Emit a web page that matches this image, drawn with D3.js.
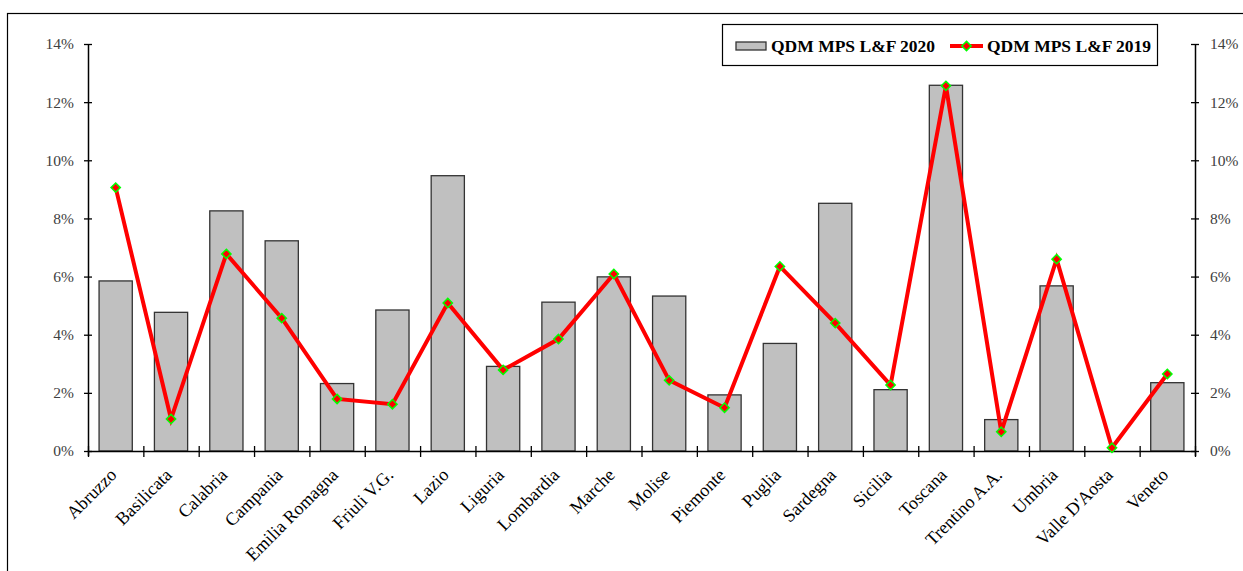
<!DOCTYPE html>
<html>
<head>
<meta charset="utf-8">
<script src="https://cdn.jsdelivr.net/npm/d3@7"></script>
<style>
  html, body { margin: 0; padding: 0; background: #fff; }
  svg { display: block; }
  svg text { font-family: "Liberation Serif", "DejaVu Serif", serif !important; }
</style>
</head>
<body>
<svg id="chart" width="1243" height="571"></svg>
<script>
// Regional shares (fraction of national total)
const regions = ["Abruzzo", "Basilicata", "Calabria", "Campania", "Emilia Romagna",
  "Friuli V.G.", "Lazio", "Liguria", "Lombardia", "Marche", "Molise", "Piemonte",
  "Puglia", "Sardegna", "Sicilia", "Toscana", "Trentino A.A.", "Umbria",
  "Valle D'Aosta", "Veneto"];

const share2020 = [0.0585, 0.0477, 0.0826, 0.0723, 0.0232, 0.0485, 0.0947, 0.0291,
  0.0512, 0.0599, 0.0533, 0.0193, 0.0370, 0.0852, 0.0211, 0.1258, 0.0108, 0.0568,
  0.0000, 0.0235];

const share2019 = [0.0906, 0.0110, 0.0678, 0.0457, 0.0179, 0.0161, 0.0509, 0.0279,
  0.0385, 0.0609, 0.0243, 0.0149, 0.0635, 0.0440, 0.0227, 0.1256, 0.0066, 0.0660,
  0.0011, 0.0265];

const yTicks = [0, 0.02, 0.04, 0.06, 0.08, 0.10, 0.12, 0.14];

const seriesNames = ["QDM MPS L&F 2020", "QDM MPS L&F 2019"];

const serif = "Liberation Serif, DejaVu Serif, serif";
const svg = d3.select("#chart");

// frame around the chart
svg.append("rect")
  .attr("x", 7.5).attr("y", 13.5)
  .attr("width", 1300).attr("height", 700)
  .attr("fill", "none").attr("stroke", "#000").attr("stroke-width", 1.2);

const plot = { left: 88, right: 1195, top: 44, bottom: 451 };

const x = d3.scaleBand().domain(regions).range([plot.left, plot.right])
  .paddingInner(0.4).paddingOuter(0.2);
const xEdge = d3.scaleLinear().domain([0, regions.length]).range([plot.left, plot.right]);
const y = d3.scaleLinear().domain([0, 0.14]).range([plot.bottom, plot.top]);

const pct = d3.format(".0%");

// bars
svg.append("g").selectAll("rect").data(regions).join("rect")
  .attr("x", d => x(d))
  .attr("y", (d, i) => y(share2020[i]))
  .attr("width", x.bandwidth())
  .attr("height", (d, i) => plot.bottom - y(share2020[i]))
  .attr("fill", "#c0c0c0")
  .attr("stroke", "#333")
  .attr("stroke-width", 1.3)
  .style("display", (d, i) => share2020[i] > 0 ? null : "none");

// axes
function styleAxis(g) {
  g.attr("font-family", serif);
  g.select(".domain").attr("stroke", "#000").attr("stroke-width", 1.5);
  g.selectAll(".tick line").attr("stroke", "#000").attr("stroke-width", 1.3);
}

const yLeft = svg.append("g").attr("transform", `translate(${plot.left},0)`)
  .call(d3.axisLeft(y).tickValues(yTicks).tickFormat(pct).tickSize(4).tickSizeOuter(0).tickPadding(10));
yLeft.call(styleAxis);
yLeft.selectAll(".tick line").attr("x1", -4).attr("x2", 4);
yLeft.selectAll(".tick text").attr("font-size", 15.5).attr("fill", "#404040");

const yRight = svg.append("g").attr("transform", `translate(${plot.right},0)`)
  .call(d3.axisRight(y).tickValues(yTicks).tickFormat(pct).tickSize(4).tickSizeOuter(0).tickPadding(11));
yRight.call(styleAxis);
yRight.selectAll(".tick line").attr("x1", -4).attr("x2", 4);
yRight.selectAll(".tick text").attr("font-size", 15.5).attr("fill", "#404040");

const xAxis = svg.append("g").attr("transform", `translate(0,${plot.bottom})`)
  .call(d3.axisBottom(xEdge).tickValues(d3.range(regions.length + 1)).tickFormat("").tickSizeOuter(0).tickSize(5));
xAxis.call(styleAxis);
xAxis.selectAll(".tick line").attr("y1", -5).attr("y2", 6);

// category labels
svg.append("g").selectAll("text").data(regions).join("text")
  .attr("transform", d => `translate(${x(d) + x.bandwidth() / 2 + 2},${plot.bottom + 25}) rotate(-45)`)
  .attr("text-anchor", "end")
  .attr("font-family", serif)
  .attr("font-size", 18)
  .attr("fill", "#000")
  .text(d => d);

// 2019 line with diamond markers
const cx = d => x(d) + x.bandwidth() / 2;
const line = d3.line().x((d, i) => cx(regions[i])).y(d => y(d));
svg.append("path").datum(share2019)
  .attr("d", line)
  .attr("fill", "none")
  .attr("stroke", "#ff0000")
  .attr("stroke-width", 4)
  .attr("stroke-linejoin", "miter");

const diamond = d3.symbol().type(d3.symbolDiamond2).size(55);
svg.append("g").selectAll("path").data(share2019).join("path")
  .attr("transform", (d, i) => `translate(${cx(regions[i])},${y(d)})`)
  .attr("d", diamond)
  .attr("fill", "#ff0000")
  .attr("stroke", "#00ff00")
  .attr("stroke-width", 1.5);

// legend
const lg = svg.append("g").attr("font-family", serif);
lg.append("rect").attr("x", 722.5).attr("y", 24.5).attr("width", 435).attr("height", 41)
  .attr("fill", "#fff").attr("stroke", "#000").attr("stroke-width", 1.2);
lg.append("rect").attr("x", 736).attr("y", 42).attr("width", 30).attr("height", 8)
  .attr("fill", "#c0c0c0").attr("stroke", "#333").attr("stroke-width", 1.3);
lg.append("text").attr("x", 771).attr("y", 52).attr("font-size", 17.5).attr("font-weight", "bold")
  .text(seriesNames[0]);
lg.append("line").attr("x1", 950).attr("x2", 983).attr("y1", 46).attr("y2", 46)
  .attr("stroke", "#ff0000").attr("stroke-width", 4);
lg.append("path").attr("transform", "translate(966.5,46)").attr("d", diamond)
  .attr("fill", "#ff0000").attr("stroke", "#00ff00").attr("stroke-width", 1.5);
lg.append("text").attr("x", 987).attr("y", 52).attr("font-size", 17.5).attr("font-weight", "bold")
  .text(seriesNames[1]);
</script>
</body>
</html>
